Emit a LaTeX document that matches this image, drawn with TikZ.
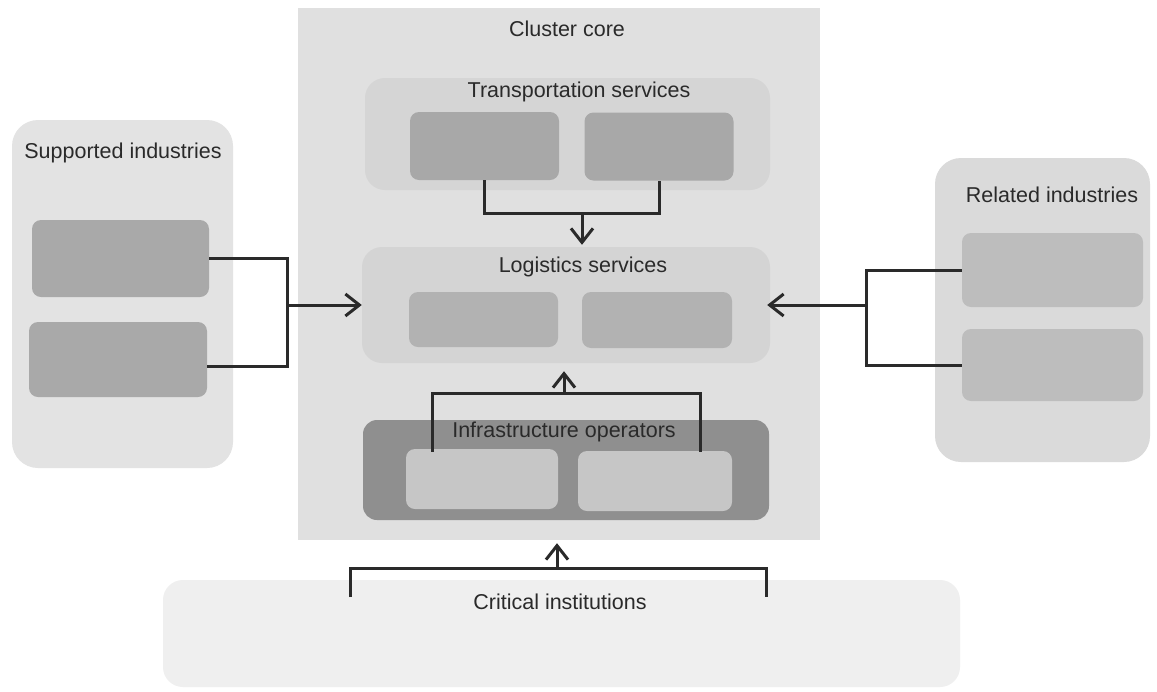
\documentclass[tikz,border=0pt]{standalone}
\usepackage{fontspec}
\setmainfont{Liberation Sans}
\usetikzlibrary{arrows.meta}

\definecolor{ink}{HTML}{2A2A2A}
\definecolor{corefill}{HTML}{E0E0E0}
\definecolor{tsfill}{HTML}{D5D5D5}
\definecolor{tscell}{HTML}{A8A8A8}
\definecolor{lsfill}{HTML}{D4D4D4}
\definecolor{lscell}{HTML}{B2B2B2}
\definecolor{iofill}{HTML}{8F8F8F}
\definecolor{iocell}{HTML}{C6C6C6}
\definecolor{cifill}{HTML}{EFEFEF}
\definecolor{sifill}{HTML}{E3E3E3}
\definecolor{sicell}{HTML}{A9A9A9}
\definecolor{rifill}{HTML}{DADADA}
\definecolor{ricell}{HTML}{BDBDBD}

\begin{document}
\begin{tikzpicture}[x=1pt,y=-1pt,
  panel/.style={inner sep=0pt, rounded corners=20pt},
  cell/.style={inner sep=0pt, rounded corners=9pt},
  title/.style={inner sep=0pt, text=ink, font=\fontsize{21.5}{24}\selectfont},
  conn/.style={draw=ink, line width=3pt},
  arr/.style={conn, -{Straight Barb[length=14pt,width=22pt]}}]

\useasboundingbox[fill=white] (0,0) rectangle (1157,691);

% cluster core
\node[inner sep=0pt, fill=corefill, minimum width=522pt, minimum height=532pt] (core) at (559,274) {};
\node[title] (tcore) at (567,29) {Cluster core};

% transportation services
\node[panel, fill=tsfill, minimum width=405pt, minimum height=112pt] (tsg) at (567.5,134) {};
\node[title] (tts) at (579,92) {Transportation services};
\node[cell, fill=tscell, minimum width=149pt, minimum height=68pt] (ts1) at (484.5,146) {};
\node[cell, fill=tscell, minimum width=149pt, minimum height=68pt] (ts2) at (659,146.5) {};

% logistics services
\node[panel, fill=lsfill, minimum width=408pt, minimum height=116pt] (lsg) at (566,305) {};
\node[title] (tls) at (583,267) {Logistics services};
\node[cell, fill=lscell, minimum width=149pt, minimum height=55pt] (ls1) at (483.5,319.5) {};
\node[cell, fill=lscell, minimum width=150pt, minimum height=56pt] (ls2) at (657,320) {};

% infrastructure operators
\node[panel, rounded corners=14pt, fill=iofill, minimum width=406pt, minimum height=100pt] (iog) at (566,470) {};
\node[title] (tio) at (564,432) {Infrastructure operators};
\node[cell, fill=iocell, minimum width=152pt, minimum height=60pt] (io1) at (482,479) {};
\node[cell, fill=iocell, minimum width=154pt, minimum height=60pt] (io2) at (655,481) {};

% critical institutions
\node[panel, fill=cifill, minimum width=797pt, minimum height=107pt] (cig) at (561.5,633.5) {};
\node[title] (tci) at (560,602) {Critical institutions};

% supported industries
\node[panel, rounded corners=26pt, fill=sifill, minimum width=221pt, minimum height=348pt] (sig) at (122.5,294) {};
\node[title] (tsi) at (123,153) {Supported industries};
\node[cell, fill=sicell, minimum width=177pt, minimum height=77pt] (si1) at (120.5,258.5) {};
\node[cell, fill=sicell, minimum width=178pt, minimum height=75pt] (si2) at (118,359.5) {};

% related industries
\node[panel, rounded corners=26pt, fill=rifill, minimum width=215pt, minimum height=304pt] (rig) at (1042.5,310) {};
\node[title] (tri) at (1052,195) {Related industries};
\node[cell, fill=ricell, minimum width=181pt, minimum height=74pt] (ri1) at (1052.5,270) {};
\node[cell, fill=ricell, minimum width=181pt, minimum height=72pt] (ri2) at (1052.5,365) {};

% junction points of the brackets
\coordinate (tsjoin) at (582,213);
\coordinate (iojoin) at (564,393);
\coordinate (cijoin) at (557,568);
\coordinate (cil) at (350,597);
\coordinate (cir) at (766,597);
\coordinate (sijoin) at (287,305);
\coordinate (rijoin) at (866,305);

% transportation -> logistics
\draw[conn] (ts1.south) |- (tsjoin) -| (ts2.south);
\draw[arr, shorten >=2pt] (tsjoin) -- (tsjoin |- lsg.north);

% infrastructure -> logistics
\draw[conn] ([xshift=27pt,yshift=-3pt]io1.north west) |- (iojoin) -| ([xshift=-32pt,yshift=-1pt]io2.north east);
\draw[arr, shorten >=8pt] (iojoin) -- (iojoin |- lsg.south);

% critical institutions -> core
\draw[conn] (cil) |- (cijoin) -| (cir);
\draw[arr, shorten >=3pt] (cijoin) -- (cijoin |- core.south);

% supported industries -> logistics
\draw[conn] (si1.east) -| (sijoin) |- ([yshift=-7pt]si2.east);
\draw[arr] (sijoin) -- (sijoin -| lsg.west);

% related industries -> logistics
\draw[conn] (ri1.west) -| (rijoin) |- (ri2.west);
\draw[arr, shorten >=-3pt] (rijoin) -- (rijoin -| lsg.east);

\end{tikzpicture}
\end{document}
